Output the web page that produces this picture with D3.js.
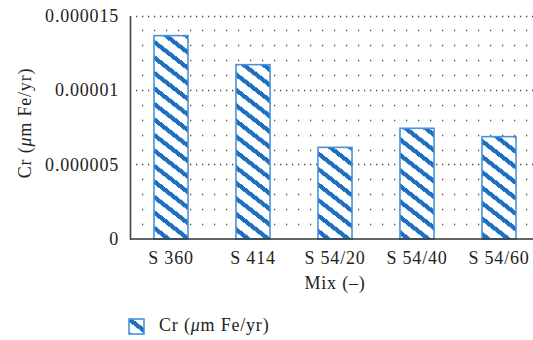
<!DOCTYPE html>
<html>
<head>
<meta charset="utf-8">
<script src="https://cdn.jsdelivr.net/npm/d3@7"></script>
<style>
  html, body { margin: 0; padding: 0; background: #fff; }
  svg { display: block; }
  text { font-family: "Liberation Serif", "Times New Roman", serif; fill: #222; }
</style>
</head>
<body>
<svg id="chart" width="533" height="340"></svg>
<script>
// Corrosion rate per mix
const categories = ["S 360", "S 414", "S 54/20", "S 54/40", "S 54/60"];
const crValues = [0.00001365, 0.0000117, 0.00000615, 0.00000743, 0.00000687];
const yTickValues = [0, 0.000005, 0.00001, 0.000015];
const yTickLabels = ["0", "0.000005", "0.00001", "0.000015"];
const minorTickValues = d3.range(1, 15).filter(i => i % 5 !== 0).map(i => i * 1e-6);
const seriesName = "Cr (";
const xTitle = "Mix (\u2013)";

const W = 533, H = 340;
const plotLeft = 130, plotRight = 540, plotTop = 15.5, plotBottom = 239;

const svg = d3.select("#chart");
const blue = "#1f6fc0";
const edge = "#4b92d8";

// hatch fill
const defs = svg.append("defs");
const pat = defs.append("pattern")
  .attr("id", "hatch")
  .attr("patternUnits", "userSpaceOnUse")
  .attr("width", 20).attr("height", 15.5);
[-15.5, 0, 15.5].forEach(o => {
  pat.append("line")
    .attr("x1", -20).attr("y1", -15.5 + o)
    .attr("x2", 40).attr("y2", 31 + o)
    .attr("stroke", blue).attr("stroke-width", 4.4)
    .attr("shape-rendering", "crispEdges");
});

const x = d3.scaleBand().domain(categories).range([plotLeft, plotRight])
  .paddingInner(0.585).paddingOuter(0.2925);
const y = d3.scaleLinear().domain([0, 0.000015]).range([plotBottom, plotTop]);

// grid lines
const grid = svg.append("g");
grid.selectAll("line.minor").data(minorTickValues).join("line")
  .attr("class", "minor")
  .attr("x1", plotLeft + 12).attr("x2", W)
  .attr("y1", d => Math.round(y(d)) + 0.5).attr("y2", d => Math.round(y(d)) + 0.5)
  .attr("stroke", "#555").attr("stroke-width", 1.3)
  .attr("stroke-dasharray", "1.3 10.7");
grid.selectAll("line.major").data(yTickValues.slice(1)).join("line")
  .attr("class", "major")
  .attr("x1", plotLeft + 6).attr("x2", W)
  .attr("y1", d => Math.round(y(d)) + 0.5).attr("y2", d => Math.round(y(d)) + 0.5)
  .attr("stroke", "#444").attr("stroke-width", 1.3)
  .attr("stroke-dasharray", "1.3 4.7");

// bars
svg.append("g").selectAll("rect").data(categories).join("rect")
  .attr("x", d => x(d))
  .attr("y", (d, i) => y(crValues[i]))
  .attr("width", x.bandwidth())
  .attr("height", (d, i) => plotBottom - y(crValues[i]))
  .attr("fill", "#fff");
svg.append("g").selectAll("rect").data(categories).join("rect")
  .attr("x", d => x(d))
  .attr("y", (d, i) => y(crValues[i]))
  .attr("width", x.bandwidth())
  .attr("height", (d, i) => plotBottom - y(crValues[i]))
  .attr("fill", "url(#hatch)")
  .attr("stroke", edge).attr("stroke-width", 1.6);

// axes
const yAxis = d3.axisLeft(y).tickValues(yTickValues)
  .tickFormat((d, i) => yTickLabels[i]).tickSize(0).tickPadding(11);
const gy = svg.append("g").attr("transform", `translate(${plotLeft},0)`).call(yAxis);
gy.select(".domain").attr("stroke", "#444").attr("stroke-width", 1.6);
gy.selectAll("text").style("font-size", "18px").style("letter-spacing", "0.8px")
  .attr("fill", "#222");

const xAxis = d3.axisBottom(x).tickSize(0).tickPadding(12);
const gx = svg.append("g").attr("transform", `translate(0,${plotBottom})`).call(xAxis);
gx.select(".domain").attr("d", `M${plotLeft},0H${W}`).attr("stroke", "#333").attr("stroke-width", 1.6);
gx.selectAll("text").style("font-size", "18px").style("letter-spacing", "0.8px")
  .attr("fill", "#222");

// axis titles
svg.append("text")
  .attr("x", 335).attr("y", 289)
  .attr("text-anchor", "middle")
  .style("font-size", "18px").style("letter-spacing", "0.8px")
  .text(xTitle);

function crLabel(sel) {
  sel.append("tspan").text(seriesName);
  sel.append("tspan").attr("font-style", "italic").text("\u03bc");
  sel.append("tspan").text("m Fe/yr)");
}

svg.append("text")
  .attr("transform", "translate(31,123) rotate(-90)")
  .attr("text-anchor", "middle")
  .style("font-size", "18px").style("letter-spacing", "0.8px")
  .call(crLabel);

// legend
const lg = svg.append("g").attr("transform", "translate(129,319)");
lg.append("rect").attr("width", 15).attr("height", 15).attr("fill", "#fff");
lg.append("rect").attr("width", 15).attr("height", 15)
  .attr("fill", "url(#hatch)").attr("stroke", edge).attr("stroke-width", 1.6);
lg.append("text").attr("x", 30).attr("y", 12)
  .style("font-size", "18px").style("letter-spacing", "0.8px")
  .call(crLabel);
</script>
</body>
</html>
